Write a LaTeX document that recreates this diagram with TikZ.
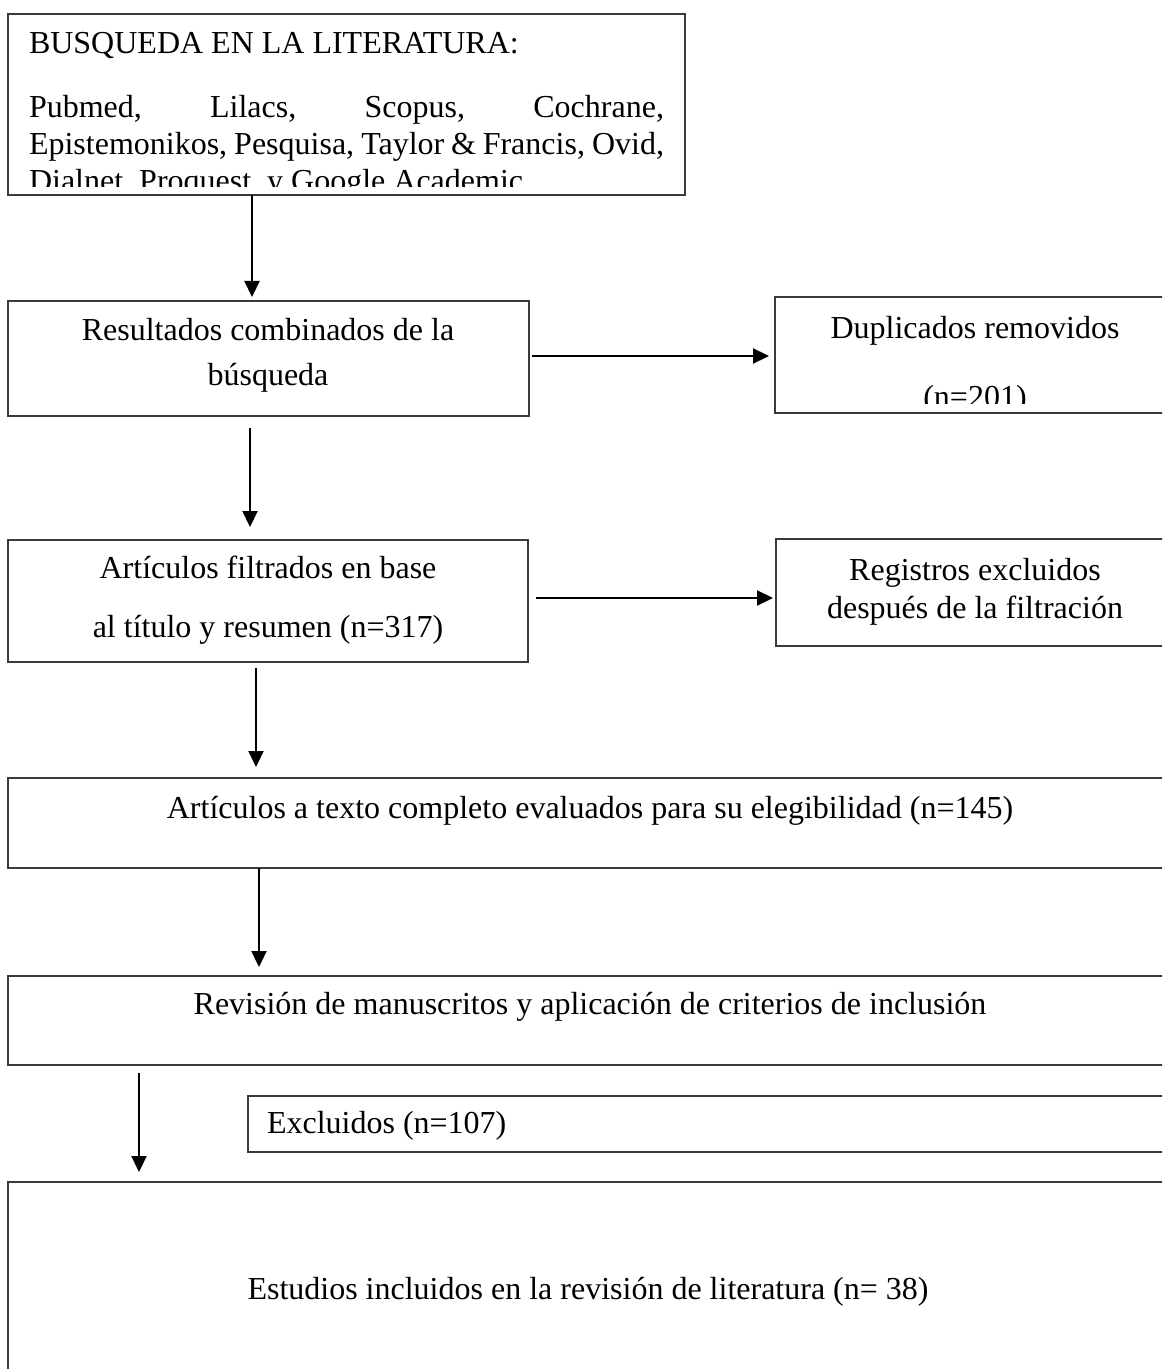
\documentclass[tikz,border=0pt]{standalone}
\usepackage{fontspec}
\setmainfont{Liberation Serif}
\usetikzlibrary{arrows.meta}
\definecolor{boxgray}{HTML}{3A3A3A}
\begin{document}
\begin{tikzpicture}[x=0.5pt,y=-0.5pt,
  box/.style={draw=boxgray, line width=0.8pt, inner sep=0pt, outer sep=0pt},
  txt/.style={anchor=base, inner sep=0pt, outer sep=0pt, font=\fontsize{16pt}{19pt}\selectfont},
  txtl/.style={txt, anchor=base west},
  arr/.style={draw=black, line width=1.1pt, -{Triangle[length=8pt,width=7.5pt]}}]
\useasboundingbox (0,0) rectangle (1162,1369);
\clip (0,0) rectangle (1162,1369);
\fill[white] (0,0) rectangle (1162,1369);

% boxes
\node[box, minimum width=338.5pt, minimum height=90.5pt] (b1) at (346.5,104.5) {};
\node[box, minimum width=260.5pt, minimum height=57.5pt] (b2) at (268.5,358.5) {};
\node[box, minimum width=200pt, minimum height=58pt] (b3) at (975,355) {};
\node[box, minimum width=260pt, minimum height=61pt] (b4) at (268,601) {};
\node[box, minimum width=199.5pt, minimum height=53.5pt] (b5) at (975.5,592.5) {};
\node[box, minimum width=582pt, minimum height=45pt] (b6) at (590,823) {};
\node[box, minimum width=582pt, minimum height=44.5pt] (b7) at (590,1020.5) {};
\node[box, minimum width=463.5pt, minimum height=28pt] (b8) at (711.5,1124) {};
\node[box, minimum width=582pt, minimum height=109pt] (b9) at (590,1291) {};

% texts of box 1 (bottom line cut by the box)
\begin{scope}
\clip (8,14) rectangle (685,187);
\node[txtl] (t1a) at (29,54) {BUSQUEDA EN LA LITERATURA:};
\node[txtl] (t1b) at (29,118) {\makebox[317.5pt][s]{Pubmed, Lilacs, Scopus, Cochrane,}};
\node[txtl] (t1c) at (29,155) {\makebox[317.5pt][s]{Epistemonikos, Pesquisa, Taylor \& Francis, Ovid,}};
\node[txtl] (t1d) at (29,192) {Dialnet, Proquest, y Google Academic};
\end{scope}

\node[txt] (t2a) at (268,341) {Resultados combinados de la};
\node[txt] (t2b) at (268,386) {búsqueda};

\node[txt] (t3a) at (975,338) {Duplicados removidos};
\begin{scope}
\clip (775,297) rectangle (1175,403);
\node[txt] (t3b) at (975,407) {(n=201)};
\end{scope}

\node[txt] (t4a) at (268,578) {Artículos filtrados en base};
\node[txt] (t4b) at (268,637) {al título y resumen (n=317)};

\node[txt] (t5a) at (975,580) {Registros excluidos};
\node[txt] (t5b) at (975,618) {después de la filtración};

\node[txt] (t6) at (590,818) {Artículos a texto completo evaluados para su elegibilidad (n=145)};
\node[txt] (t7) at (590,1014) {Revisión de manuscritos y aplicación de criterios de inclusión};
\node[txtl] (t8) at (267,1133) {Excluidos (n=107)};
\node[txt] (t9) at (588,1299) {Estudios incluidos en la revisión de literatura (n= 38)};

% arrow positions
\coordinate (x1) at (252,0);
\coordinate (x2) at (250,0);
\coordinate (x3) at (256,0);
\coordinate (x4) at (259,0);
\coordinate (x5) at (139,0);
\coordinate (y1) at (0,356);
\coordinate (y2) at (0,598);

% connectors
\draw[arr, shorten >=2pt] (b1.south -| x1) -- (b2.north -| x1);
\draw[arr, shorten <=1.5pt, shorten >=3pt] (b2.east |- y1) -- (b3.west |- y1);
\draw[arr, shorten <=6pt, shorten >=6.5pt] (b2.south -| x2) -- (b4.north -| x2);
\draw[arr, shorten <=4pt, shorten >=1.5pt] (b4.east |- y2) -- (b5.west |- y2);
\draw[arr, shorten <=3pt, shorten >=5.5pt] (b4.south -| x3) -- (b6.north -| x3);
\draw[arr, shorten >=4.5pt] (b6.south -| x4) -- (b7.north -| x4);
\draw[arr, shorten <=4pt, shorten >=5pt] (b7.south -| x5) -- (b9.north -| x5);
\end{tikzpicture}
\end{document}
